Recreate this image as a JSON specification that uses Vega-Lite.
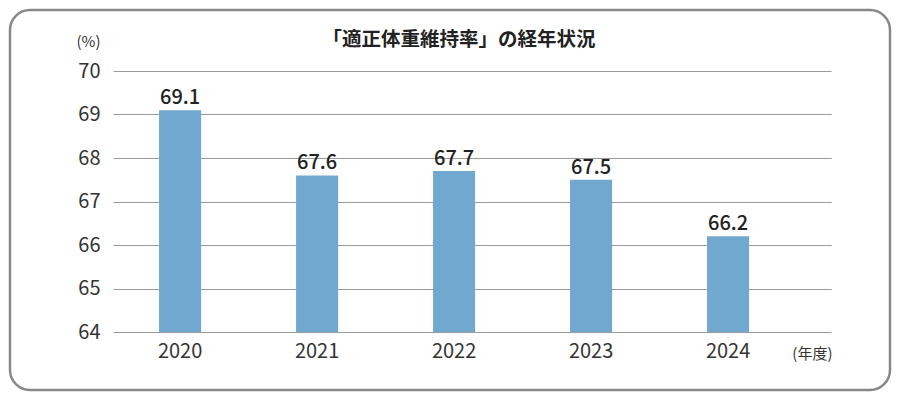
{
  "$schema": "https://vega.github.io/schema/vega-lite/v6.json",
  "autosize": {"type": "none"},
  "width": 718,
  "height": 261,
  "padding": {"left": 113, "top": 71, "right": 69, "bottom": 69},
  "background": "white",
  "config": {
    "view": {"stroke": null},
    "font": "Noto Sans CJK JP"
  },
  "title": {
    "text": "「適正体重維持率」の経年状況",
    "fontSize": 19.5,
    "fontWeight": "bold",
    "color": "#222",
    "anchor": "middle",
    "dx": -13,
    "offset": -42
  },
  "data": {
    "values": [
      {"year": "2020", "rate": 69.1},
      {"year": "2021", "rate": 67.6},
      {"year": "2022", "rate": 67.7},
      {"year": "2023", "rate": 67.5},
      {"year": "2024", "rate": 66.2}
    ]
  },
  "layer": [
    {
      "data": {"values": [{}]},
      "mark": {"type": "rect", "fill": null, "stroke": "#888", "strokeWidth": 2.5, "cornerRadius": 20},
      "encoding": {
        "x": {"value": -103},
        "x2": {"value": 777},
        "y": {"value": -61},
        "y2": {"value": 319}
      }
    },
    {
      "mark": {"type": "bar", "color": "#70a8cf"},
      "encoding": {
        "x": {
          "field": "year",
          "type": "ordinal",
          "scale": {"paddingInner": 0.693, "paddingOuter": 0.467, "align": 0.36},
          "axis": {
            "title": "(年度)",
            "titleX": 719,
            "titleY": 21,
            "titleAlign": "right",
            "titleBaseline": "middle",
            "titleFontSize": 15,
            "titleFontWeight": "normal",
            "titleColor": "#333",
            "labelAngle": 0,
            "labelFontSize": 20,
            "labelColor": "#333",
            "labelPadding": 9,
            "domain": false,
            "ticks": false
          }
        },
        "y": {
          "field": "rate",
          "type": "quantitative",
          "scale": {"domain": [64, 70], "zero": false, "nice": false},
          "axis": {
            "values": [64, 65, 66, 67, 68, 69, 70],
            "title": "(%)",
            "titleAngle": 0,
            "titleX": -25,
            "titleY": -30,
            "titleAlign": "center",
            "titleBaseline": "middle",
            "titleFontSize": 15,
            "titleFontWeight": "normal",
            "titleColor": "#333",
            "labelFontSize": 20,
            "labelColor": "#333",
            "labelPadding": 13,
            "domain": false,
            "ticks": false,
            "grid": true,
            "gridColor": "#999",
            "gridWidth": 1
          }
        },
        "y2": {"datum": 64}
      }
    },
    {
      "mark": {"type": "text", "baseline": "bottom", "dy": -2, "fontSize": 20, "fontWeight": 500, "color": "#222"},
      "encoding": {
        "x": {"field": "year", "type": "ordinal"},
        "y": {"field": "rate", "type": "quantitative"},
        "text": {"field": "rate", "type": "quantitative", "format": ".1f"}
      }
    }
  ]
}
